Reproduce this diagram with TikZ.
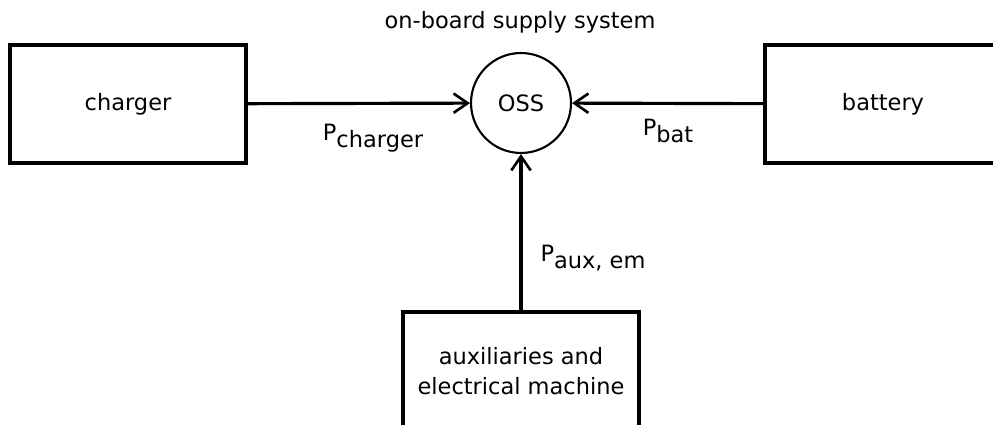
\documentclass[tikz,border=0pt]{standalone}
\usepackage{fontspec}
\setmainfont{DejaVu Sans}
\usetikzlibrary{arrows.meta}
\tikzset{
 blk/.style={draw,line width=1.8pt,minimum width=4.72cm,minimum height=2.36cm,inner sep=0pt,align=center},
 flow/.style={line width=1.8pt,-{Straight Barb[length=8pt,width=11pt,line width=1.5pt]}}
}
\newcommand{\pwr}[1]{P\raisebox{-.55ex}{#1}}
\begin{document}
\begin{tikzpicture}[x=.02cm,y=-.02cm,font=\fontsize{12.8}{17}\selectfont]
 \useasboundingbox(0,0)rectangle(993,425);
 \clip(0,0)rectangle(993,425);
 \node[blk](charger)at(128,104){charger};
 \node[blk](battery)at(883,104){battery};
 \node[blk](aux)at(521,371){auxiliaries and\\electrical machine};
 \node[draw,circle,line width=1.2pt,minimum size=2cm,inner sep=0pt](oss)at(521,103){OSS};
 \node(title)at(520,22){on-board supply system};
 \draw[flow](charger)--(oss);
 \draw[flow](battery)--(oss);
 \draw[flow](aux)--(oss);
 \node(pch)at(373,138){\pwr{charger}};
 \node(pbat)at(668,131){\pwr{bat}};
 \node(paux)at(593,258){\pwr{aux, em}};
\end{tikzpicture}
\end{document}
